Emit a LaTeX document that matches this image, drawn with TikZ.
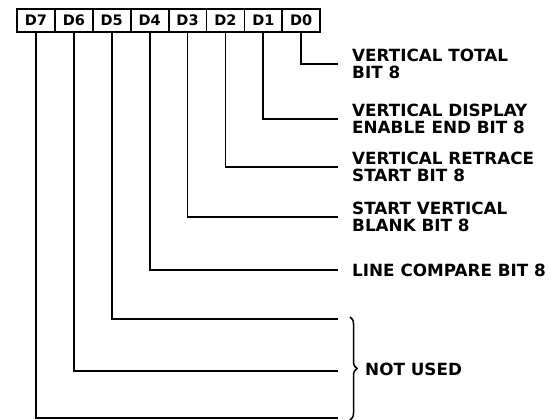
\documentclass[tikz,border=0pt]{standalone}
\usepackage{fontspec}
\usepackage{xcolor}
\usepackage{tikz}
\usetikzlibrary{positioning,decorations.pathreplacing}
\newfontfamily\regfont{DejaVu Sans}
\definecolor{ink}{HTML}{000000}

\begin{document}
\begin{tikzpicture}[x=1pt, y=-1pt,
    bitbox/.style={rectangle, draw=ink, line width=1.8pt, minimum width=37.9pt, minimum height=23pt, inner sep=0pt, font=\regfont\bfseries\fontsize{14.5}{16}\selectfont},
    fieldlabel/.style={anchor=west, align=left, inner sep=0pt, text=ink, font=\regfont\bfseries\fontsize{16.8}{17}\selectfont},
    wire/.style={draw=ink, line width=1.8pt}
]
    \useasboundingbox (0,0) rectangle (554,420);

    % Register bits
    \foreach \i in {7,...,0}
        \node[bitbox] (b\i) at ({17+(7.5-\i)*37.9}, 20.5) {D\i};

    % Line ends
    \coordinate (e0) at (338,64);
    \coordinate (e1) at (338,119);
    \coordinate (e2) at (338,167);
    \coordinate (e3) at (338,217);
    \coordinate (e4) at (338,270);
    \coordinate (e5) at (338,319);
    \coordinate (e6) at (338,371);
    \coordinate (e7) at (338,418);

    % Field labels
    \node[fieldlabel, right=14pt of e0] (l0) {VERTICAL TOTAL\\BIT 8};
    \node[fieldlabel, right=14pt of e1] (l1) {VERTICAL DISPLAY\\ENABLE END BIT 8};
    \node[fieldlabel, right=14pt of e2] (l2) {VERTICAL RETRACE\\START BIT 8};
    \node[fieldlabel, right=14pt of e3] (l3) {START VERTICAL\\BLANK BIT 8};
    \node[fieldlabel, right=14pt of e4] (l4) {LINE COMPARE BIT 8};

    % Connectors
    \foreach \i in {0,...,7}
        \draw[wire] (b\i.south) |- (e\i);

    % Unused bits
    \coordinate (u1) at (350,317);
    \coordinate (u2) at (350,420);
    \draw[ink, line width=1.5pt, decorate, decoration={brace, amplitude=7pt}] (u1) -- (u2);
    \node[fieldlabel] (nu) at (365,369) {NOT USED};
\end{tikzpicture}
\end{document}
